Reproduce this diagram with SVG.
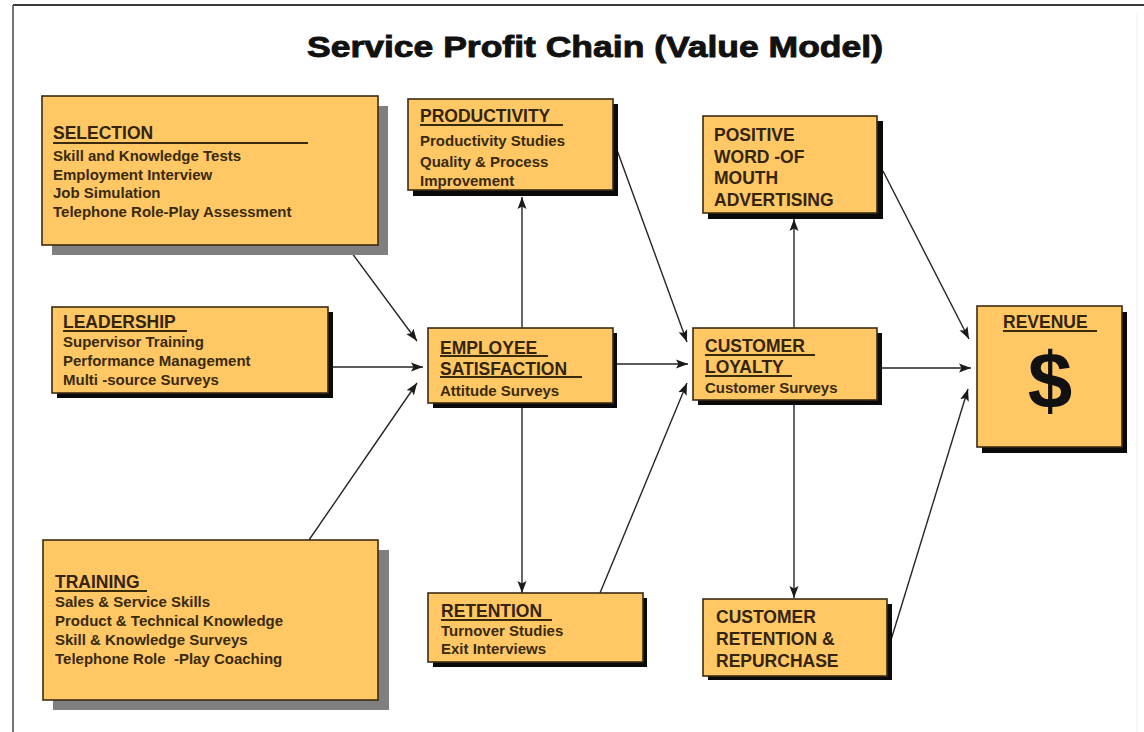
<svg xmlns="http://www.w3.org/2000/svg" width="1144" height="732" viewBox="0 0 1144 732">
  <style>
    .box { fill: #FFC865; stroke: #3b2b12; stroke-width: 1.6; }
    .sh-dark { fill: #0a0a0a; }
    .sh-grey { fill: #7f7f7f; }
    .hd { font-family: "Liberation Sans", Arial, sans-serif; font-weight: bold; font-size: 17.5px; fill: #33240b; }
    .tx { font-family: "Liberation Sans", Arial, sans-serif; font-weight: bold; font-size: 15px; fill: #3a2a0c; }
    .ul { stroke: #3a2a0c; stroke-width: 1.8; }
    .conn line { stroke: #262626; stroke-width: 1.4; fill: none; marker-end: url(#arrow); }
  </style>
  <defs>
    <marker id="arrow" markerUnits="userSpaceOnUse" markerWidth="13" markerHeight="10" refX="12" refY="5" orient="auto">
      <path d="M0,0.5 L12,5 L0,9.5 L2.5,5 Z" fill="#1a1a1a"/>
    </marker>
  </defs>

  <rect width="1144" height="732" fill="#ffffff"/>

  <!-- page frame -->
  <line x1="13" y1="5" x2="1144" y2="5" stroke="#3a3a3a" stroke-width="2"/>
  <line x1="13" y1="5" x2="13" y2="732" stroke="#4a4a4a" stroke-width="1.5"/>
  <line x1="1137" y1="12" x2="1137" y2="732" stroke="#f0f0f0" stroke-width="1"/>

  <!-- title -->
  <text x="307" y="57" textLength="576" lengthAdjust="spacingAndGlyphs" font-family="Liberation Sans, Arial, sans-serif" font-weight="bold" font-size="30" fill="#111" stroke="#111" stroke-width="0.9">Service Profit Chain (Value Model)</text>

  <!-- connectors -->
  <g id="connectors" class="conn">
    <line x1="346" y1="245" x2="417" y2="341"/>
    <line x1="328" y1="367" x2="423" y2="367"/>
    <line x1="309" y1="540" x2="417" y2="383"/>
    <line x1="522" y1="328" x2="522" y2="197"/>
    <line x1="617" y1="150" x2="687" y2="342"/>
    <line x1="613" y1="364" x2="688" y2="364"/>
    <line x1="522" y1="408" x2="522" y2="593"/>
    <line x1="600" y1="593" x2="687" y2="383"/>
    <line x1="794" y1="328" x2="794" y2="219"/>
    <line x1="883" y1="171" x2="969" y2="339"/>
    <line x1="877" y1="368" x2="971" y2="368"/>
    <line x1="794" y1="405" x2="794" y2="598"/>
    <line x1="891" y1="640" x2="968" y2="389"/>
  </g>

  <!-- nodes -->
  <g id="selection">
    <rect class="sh-grey" x="52" y="106" width="336" height="149"/>
    <rect class="box" x="42" y="96" width="336" height="149"/>
    <text class="hd" x="53" y="139">SELECTION</text>
    <line class="ul" x1="53" y1="143" x2="308" y2="143"/>
    <text class="tx" x="53" y="161">Skill and Knowledge Tests</text>
    <text class="tx" x="53" y="180">Employment Interview</text>
    <text class="tx" x="53" y="198">Job Simulation</text>
    <text class="tx" x="53" y="217">Telephone Role-Play Assessment</text>
  </g>

  <g id="productivity">
    <rect class="sh-dark" x="413" y="104" width="205" height="92"/>
    <rect class="box" x="408" y="99" width="205" height="91"/>
    <text class="hd" x="420" y="122">PRODUCTIVITY</text>
    <line class="ul" x1="420" y1="125" x2="563" y2="125"/>
    <text class="tx" x="420" y="146">Productivity Studies</text>
    <text class="tx" x="420" y="167">Quality &amp; Process</text>
    <text class="tx" x="420" y="186">Improvement</text>
  </g>

  <g id="word-of-mouth">
    <rect class="sh-dark" x="708" y="121" width="175" height="98"/>
    <rect class="box" x="703" y="116" width="174" height="97"/>
    <text class="hd" x="714" y="141">POSITIVE</text>
    <text class="hd" x="714" y="163">WORD -OF</text>
    <text class="hd" x="714" y="184">MOUTH</text>
    <text class="hd" x="714" y="206">ADVERTISING</text>
  </g>

  <g id="leadership">
    <rect class="sh-dark" x="57" y="312" width="276" height="86"/>
    <rect class="box" x="52" y="307" width="276" height="86"/>
    <text class="hd" x="63" y="328">LEADERSHIP</text>
    <line class="ul" x1="63" y1="331" x2="187" y2="331"/>
    <text class="tx" x="63" y="347">Supervisor Training</text>
    <text class="tx" x="63" y="366">Performance Management</text>
    <text class="tx" x="63" y="385">Multi -source Surveys</text>
  </g>

  <g id="employee-satisfaction">
    <rect class="sh-dark" x="433" y="333" width="184" height="75"/>
    <rect class="box" x="428" y="328" width="185" height="75"/>
    <text class="hd" x="440" y="354">EMPLOYEE</text>
    <line class="ul" x1="440" y1="356" x2="548" y2="356"/>
    <text class="hd" x="440" y="375">SATISFACTION</text>
    <line class="ul" x1="440" y1="377" x2="582" y2="377"/>
    <text class="tx" x="440" y="396">Attitude Surveys</text>
  </g>

  <g id="customer-loyalty">
    <rect class="sh-dark" x="698" y="333" width="184" height="72"/>
    <rect class="box" x="693" y="328" width="184" height="72"/>
    <text class="hd" x="705" y="352">CUSTOMER</text>
    <line class="ul" x1="705" y1="355" x2="815" y2="355"/>
    <text class="hd" x="705" y="373">LOYALTY</text>
    <line class="ul" x1="705" y1="376" x2="792" y2="376"/>
    <text class="tx" x="705" y="393">Customer Surveys</text>
  </g>

  <g id="revenue">
    <rect class="sh-dark" x="982" y="312" width="145" height="141"/>
    <rect class="box" x="977" y="306" width="145" height="141"/>
    <text class="hd" x="1003" y="328">REVENUE</text>
    <line class="ul" x1="1003" y1="331" x2="1097" y2="331"/>
    <text x="1050" y="408" text-anchor="middle" font-family="Liberation Sans, Arial, sans-serif" font-weight="bold" font-size="80" fill="#111">$</text>
  </g>

  <g id="training">
    <rect class="sh-grey" x="53" y="550" width="336" height="160"/>
    <rect class="box" x="43" y="540" width="335" height="160"/>
    <text class="hd" x="55" y="588">TRAINING</text>
    <line class="ul" x1="55" y1="591" x2="147" y2="591"/>
    <text class="tx" x="55" y="607">Sales &amp; Service Skills</text>
    <text class="tx" x="55" y="626">Product &amp; Technical Knowledge</text>
    <text class="tx" x="55" y="645">Skill &amp; Knowledge Surveys</text>
    <text class="tx" x="55" y="664" xml:space="preserve">Telephone Role  -Play Coaching</text>
  </g>

  <g id="retention">
    <rect class="sh-dark" x="433" y="598" width="214" height="69"/>
    <rect class="box" x="428" y="593" width="215" height="69"/>
    <text class="hd" x="441" y="617">RETENTION</text>
    <line class="ul" x1="441" y1="620" x2="552" y2="620"/>
    <text class="tx" x="441" y="636">Turnover Studies</text>
    <text class="tx" x="441" y="654">Exit Interviews</text>
  </g>

  <g id="customer-retention">
    <rect class="sh-dark" x="708" y="604" width="184" height="76"/>
    <rect class="box" x="703" y="599" width="184" height="77"/>
    <text class="hd" x="716" y="623">CUSTOMER</text>
    <text class="hd" x="716" y="645">RETENTION &amp;</text>
    <text class="hd" x="716" y="667">REPURCHASE</text>
  </g>
</svg>
